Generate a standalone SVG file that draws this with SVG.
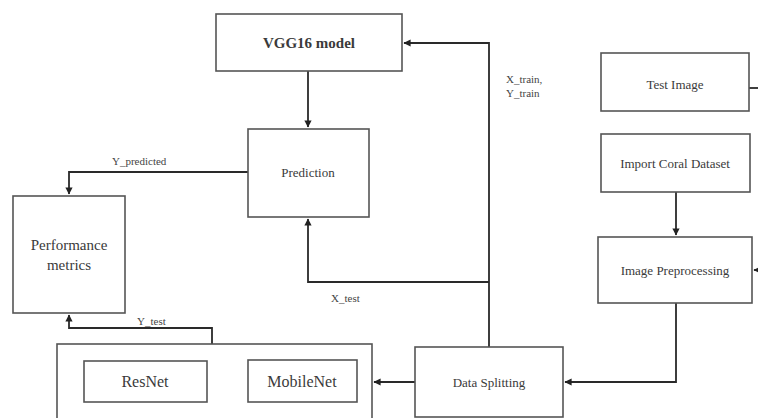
<svg xmlns="http://www.w3.org/2000/svg" width="758" height="418" viewBox="0 0 758 418">
<defs>
<marker id="ah" viewBox="0 0 6 6" refX="5.5" refY="3" markerWidth="4" markerHeight="4" orient="auto" markerUnits="strokeWidth">
<path d="M0,0 L6,3 L0,6 z" fill="#222"/>
</marker>
<style>
.box{fill:#fff;stroke:#555;stroke-width:1.6}
.t{font-family:"Liberation Serif","DejaVu Serif",serif;fill:#3a3a3a;text-anchor:middle}
.lbl{font-family:"Liberation Serif","DejaVu Serif",serif;fill:#444;font-size:11px}
.c{fill:none;stroke:#2a2a2a;stroke-width:1.8}
</style>
</defs>
<rect width="758" height="418" fill="#fff"/>
<g id="connectors">
<path class="c" d="M489,347 V43 H404" marker-end="url(#ah)"/>
<path class="c" d="M308,71 V127" marker-end="url(#ah)"/>
<path class="c" d="M248,172 H69 V194" marker-end="url(#ah)"/>
<path class="c" d="M489,282 H308 V219" marker-end="url(#ah)"/>
<path class="c" d="M212,344 V328 H69 V315" marker-end="url(#ah)"/>
<path class="c" d="M415,382 H374" marker-end="url(#ah)"/>
<path class="c" d="M676,303 V382 H565" marker-end="url(#ah)"/>
<path class="c" d="M676,192 V235" marker-end="url(#ah)"/>
<path class="c" d="M749,88 H758"/>
<path class="c" d="M758,270 H754" marker-end="url(#ah)"/>
<text class="lbl" x="112" y="165">Y_predicted</text>
<text class="lbl" x="137" y="325">Y_test</text>
<text class="lbl" x="331" y="302">X_test</text>
<text class="lbl" x="506" y="83">X_train,</text>
<text class="lbl" x="506" y="97">Y_train</text>
</g>
<g id="vgg16"><rect class="box" x="216" y="14" width="186" height="57"/><text class="t" x="309" y="48" font-size="15" font-weight="bold">VGG16 model</text></g>
<g id="prediction"><rect class="box" x="248" y="129" width="121" height="88"/><text class="t" x="308" y="177" font-size="13">Prediction</text></g>
<g id="performance"><rect class="box" x="13" y="196" width="112" height="117"/><text class="t" x="69" y="250" font-size="15">Performance</text><text class="t" x="69" y="270" font-size="15">metrics</text></g>
<g id="models"><rect class="box" x="57" y="344" width="315" height="80"/></g>
<g id="resnet"><rect class="box" x="84" y="361" width="123" height="41"/><text class="t" x="145" y="387" font-size="16">ResNet</text></g>
<g id="mobilenet"><rect class="box" x="248" y="360" width="109" height="42"/><text class="t" x="302" y="387" font-size="16">MobileNet</text></g>
<g id="datasplit"><rect class="box" x="415" y="347" width="148" height="70"/><text class="t" x="489" y="387" font-size="13">Data Splitting</text></g>
<g id="testimage"><rect class="box" x="601" y="53" width="148" height="58"/><text class="t" x="675" y="89" font-size="13">Test Image</text></g>
<g id="import"><rect class="box" x="601" y="134" width="149" height="58"/><text class="t" x="675" y="168" font-size="13">Import Coral Dataset</text></g>
<g id="preprocess"><rect class="box" x="598" y="237" width="154" height="66"/><text class="t" x="675" y="275" font-size="13">Image Preprocessing</text></g>
</svg>
